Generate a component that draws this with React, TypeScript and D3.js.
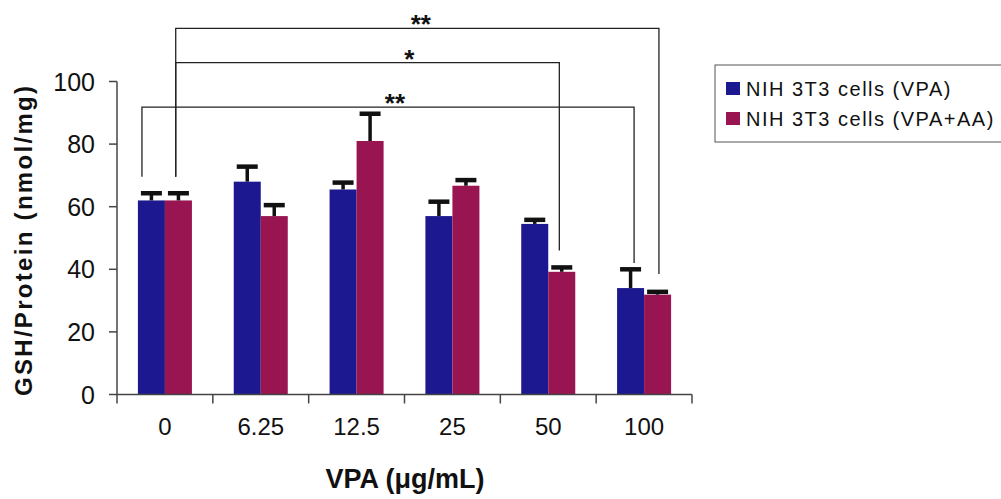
import React from "react";
import * as d3 from "d3";

// Concentrations of VPA (µg/mL)
const categories = ["0", "6.25", "12.5", "25", "50", "100"];
const seriesNames = ["NIH 3T3 cells (VPA)", "NIH 3T3 cells (VPA+AA)"];

// GSH/Protein means (nmol/mg) and their upper error bars
const vpaMeans = [62, 68, 65.5, 57, 54.5, 34];
const vpaErrors = [2.3, 4.8, 2.2, 4.6, 1.3, 6];
const vpaAaMeans = [62, 57, 81, 66.7, 39.2, 31.9];
const vpaAaErrors = [2.3, 3.5, 8.7, 1.8, 1.4, 0.9];

const yTicks = [0, 20, 40, 60, 80, 100];

// Significance brackets: [group, series] at each end, bar level, drop ends, label
const bracketFrom = [[0, 1], [0, 1], [0, 0]];
const bracketTo = [[5, 1], [4, 1], [5, 0]];
const bracketLevel = [117, 106, 91.8];
const bracketDropFrom = [69.6, 69.6, 69.6];
const bracketDropTo = [38.5, 46, 42];
const bracketLabels = ["**", "*", "**"];
const bracketLabelPos = [3.17, 3.05, 2.9];

const colors = ["#1c188f", "#981551"];

const W = 1001;
const H = 499;
const FONT = "'Liberation Sans', Arial, sans-serif";

export default function App() {
  const x = d3.scaleBand<string>().domain(categories).range([117, 692]).padding(0);
  const bw = x.bandwidth();
  const inner = d3
    .scaleBand<number>()
    .domain([0, 1])
    .range([0, bw])
    .paddingInner(0)
    .paddingOuter(0.774);
  const barW = inner.bandwidth();
  const y = d3.scaleLinear().domain([0, 100]).range([394.5, 81.5]);
  const pos = d3.scaleLinear().domain([0, 6]).range([117, 692]);

  const means = [vpaMeans, vpaAaMeans];
  const errs = [vpaErrors, vpaAaErrors];
  // where each bracket leg sits across the width of its bar
  const fromFrac = [0.15, 0.4];
  const toFrac = [0.55, 0.41, 0.63];

  const barLeft = (g: number, s: number) =>
    (x(categories[g]) as number) + (inner(s) as number);
  const barCenter = (g: number, s: number) => barLeft(g, s) + barW / 2;

  const y0 = y(0);

  return (
    <svg
      width={W}
      height={H}
      style={{ position: "absolute", left: 0, top: 0, background: "#fff" }}
      fontFamily={FONT}
    >
      {/* bars */}
      {means.map((vals, s) =>
        vals.map((v, g) => (
          <rect
            key={`b${s}-${g}`}
            x={barLeft(g, s)}
            y={y(v)}
            width={barW}
            height={y0 - y(v)}
            fill={colors[s]}
          />
        ))
      )}

      {/* error bars (upper only) */}
      {means.map((vals, s) =>
        vals.map((v, g) => {
          const cx = barCenter(g, s);
          const top = y(v + errs[s][g]);
          return (
            <g key={`e${s}-${g}`} stroke="#111">
              <line x1={cx} x2={cx} y1={y(v)} y2={top} strokeWidth={3.5} />
              <line x1={cx - 10.5} x2={cx + 10.5} y1={top} y2={top} strokeWidth={4.5} />
            </g>
          );
        })
      )}

      {/* y axis */}
      <g stroke="#444" strokeWidth={1.5}>
        <line x1={117} x2={117} y1={y(100)} y2={y0} />
        {yTicks.map((t) => (
          <line key={t} x1={109} x2={117} y1={y(t)} y2={y(t)} />
        ))}
      </g>
      {yTicks.map((t) => (
        <text
          key={`yl${t}`}
          x={95}
          y={y(t)}
          textAnchor="end"
          dominantBaseline="central"
          fontSize={25}
          fill="#111"
        >
          {t}
        </text>
      ))}

      {/* x axis */}
      <g stroke="#444" strokeWidth={1.5}>
        <line x1={117} x2={692} y1={y0} y2={y0} />
        {d3.range(categories.length + 1).map((i) => (
          <line key={i} x1={pos(i)} x2={pos(i)} y1={y0} y2={y0 + 9} />
        ))}
      </g>
      {categories.map((c) => (
        <text
          key={`xl${c}`}
          x={(x(c) as number) + bw / 2}
          y={426}
          textAnchor="middle"
          dominantBaseline="central"
          fontSize={24}
          fill="#111"
        >
          {c}
        </text>
      ))}

      {/* axis titles */}
      <text
        x={405}
        y={479}
        textAnchor="middle"
        dominantBaseline="central"
        fontSize={27}
        fontWeight="bold"
        fill="#111"
      >
        VPA (μg/mL)
      </text>
      <text
        transform={`translate(23,241) rotate(-90)`}
        textAnchor="middle"
        dominantBaseline="central"
        fontSize={24}
        fontWeight="bold"
        textLength={310}
        lengthAdjust="spacing"
        fill="#111"
      >
        GSH/Protein (nmol/mg)
      </text>

      {/* significance brackets */}
      {bracketLevel.map((lvl, i) => {
        const [g1, s1] = bracketFrom[i];
        const [g2, s2] = bracketTo[i];
        const xa = barLeft(g1, s1) + barW * fromFrac[s1];
        const xb = barLeft(g2, s2) + barW * toFrac[i];
        const path = `M${xa},${y(bracketDropFrom[i])}V${y(lvl)}H${xb}V${y(bracketDropTo[i])}`;
        return (
          <g key={`br${i}`}>
            <path d={path} fill="none" stroke="#222" strokeWidth={1.3} />
            <text
              x={pos(bracketLabelPos[i])}
              y={y(lvl) + 5}
              textAnchor="middle"
              fontSize={26}
              fontWeight="bold"
              fill="#111"
            >
              {bracketLabels[i]}
            </text>
          </g>
        );
      })}

      {/* legend */}
      <rect x={715} y={65} width={300} height={77} fill="none" stroke="#555" strokeWidth={1} />
      {seriesNames.map((n, i) => (
        <g key={`lg${i}`}>
          <rect x={726} y={82 + i * 30} width={14} height={13} fill={colors[i]} />
          <text
            x={746}
            y={88.5 + i * 30}
            dominantBaseline="central"
            fontSize={20}
            letterSpacing={1.5}
            fill="#111"
          >
            {n}
          </text>
        </g>
      ))}
    </svg>
  );
}
